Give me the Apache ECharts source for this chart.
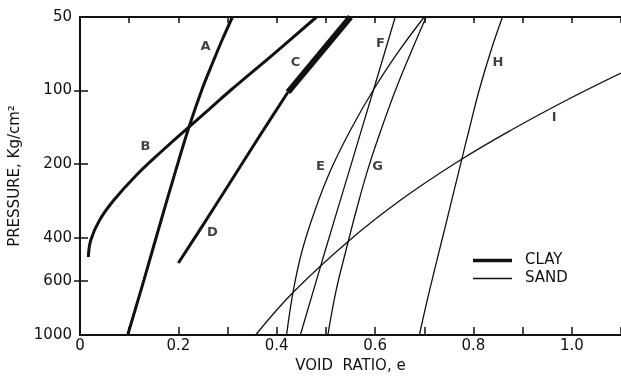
<!DOCTYPE html>
<html>
<head>
<meta charset="utf-8">
<script src="https://cdn.jsdelivr.net/npm/echarts@6/dist/echarts.min.js"></script>
<style>
  html, body { margin: 0; padding: 0; background: #fff; }
</style>
</head>
<body>
<div id="chart" style="width:621px;height:376px;"></div>
<script>
// curves: void ratio e, pressure kg/cm2
const aVoid = [0.310, 0.289, 0.272, 0.248, 0.221, 0.195, 0.161, 0.130, 0.097]
const aPress = [50, 62.1, 75, 99, 142.3, 211, 361.5, 596, 1000]
const bVoid = [0.481, 0.396, 0.308, 0.263, 0.219, 0.169, 0.115, 0.069, 0.040, 0.022, 0.017]
const bPress = [50, 70.2, 99, 119, 142.3, 175, 221.5, 280.5, 338.5, 408.5, 479.5]
const cVoid = [0.423, 0.550]
const cPress = [101.4, 50]
const dVoid = [0.200, 0.250, 0.302, 0.360, 0.423]
const dPress = [507.5, 355, 243.4, 159.3, 101.4]
const eVoid = [0.700, 0.650, 0.597, 0.550, 0.510, 0.478, 0.452, 0.434, 0.420]
const ePress = [50, 68.2, 99, 145, 211, 308, 449, 654, 1000]
const fVoid = [0.641, 0.597, 0.548, 0.499, 0.448]
const fPress = [50, 99, 211, 449, 1000]
const gVoid = [0.704, 0.675, 0.642, 0.612, 0.585, 0.562, 0.541, 0.521, 0.504]
const gPress = [50, 68.2, 99, 145, 211, 308, 449, 654, 1000]
const hVoid = [0.859, 0.836, 0.812, 0.791, 0.771, 0.741, 0.711, 0.690]
const hPress = [50, 68.2, 99, 145, 211, 372, 654, 1000]
const iVoid = [1.1, 0.990, 0.877, 0.767, 0.652, 0.544, 0.434, 0.357]
const iPress = [84.8, 109.3, 145, 196, 280.5, 416, 667, 1000]

// letters beside the curves
const tagNames = ['A', 'B', 'C', 'D', 'E', 'F', 'G', 'H', 'I']
const tagVoid = [0.255, 0.133, 0.438, 0.269, 0.489, 0.611, 0.605, 0.850, 0.964]
const tagPress = [66, 170, 76.5, 381, 205, 64, 205, 76.5, 128.6]

const pressTicks = [100, 200, 400, 600]
const pressLabels = [50, 100, 200, 400, 600, 1000]

const ink = '#111'
const font = 'DejaVu Sans'

function curve(name, voids, press, width) {
    return {
        name: name,
        type: 'line',
        symbol: 'none',
        smooth: 0.4,
        lineStyle: { color: ink, width: width },
        itemStyle: { color: ink },
        data: voids.map((v, i) => [v, Math.log10(press[i])])
    }
}

const yBase = {
    type: 'value',
    inverse: true,
    min: Math.log10(50),
    max: 3,
    splitLine: { show: false },
    axisLine: { show: true, lineStyle: { color: ink, width: 2 } }
}

const option = {
    animation: false,
    grid: { left: 80, top: 17, right: 0, bottom: 41, outerBoundsMode: 'none' },
    legend: {
        orient: 'vertical',
        left: 473,
        top: 253,
        padding: 0,
        itemWidth: 39,
        itemHeight: 10,
        itemGap: 3,
        selectedMode: false,
        textStyle: { color: ink, fontFamily: font, fontSize: 15, padding: [0, 0, 0, 8] },
        data: [
            { name: 'CLAY', icon: 'path://M0 0H39V3.5H0Z' },
            { name: 'SAND', icon: 'path://M0 0H39V1.3H0Z' }
        ]
    },
    xAxis: [{
        type: 'value',
        min: 0,
        max: 1.1,
        interval: 0.1,
        position: 'bottom',
        name: 'VOID  RATIO, e',
        nameLocation: 'middle',
        nameGap: 22,
        nameTextStyle: { color: ink, fontFamily: font, fontSize: 15 },
        splitLine: { show: false },
        axisLine: { lineStyle: { color: ink, width: 2 } },
        axisTick: { inside: true, length: 8, lineStyle: { color: ink, width: 1.5 } },
        axisLabel: {
            color: ink, fontFamily: font, fontSize: 15, margin: 4,
            formatter: v => {
                const k = Math.round(v * 10)
                if (k % 2) return ''
                return k === 0 ? '0' : (k / 10).toFixed(1)
            }
        }
    }, {
        type: 'value',
        min: 0,
        max: 1.1,
        interval: 0.1,
        position: 'top',
        splitLine: { show: false },
        axisLine: { lineStyle: { color: ink, width: 2 } },
        axisTick: { inside: true, length: 6, lineStyle: { color: ink, width: 1.5 } },
        axisLabel: { show: false }
    }],
    yAxis: [Object.assign({}, yBase, {
        position: 'left',
        name: 'PRESSURE, Kg/cm²',
        nameLocation: 'middle',
        nameGap: 56,
        nameTextStyle: { color: ink, fontFamily: font, fontSize: 15 },
        axisTick: {
            inside: true, length: 8,
            customValues: pressTicks.map(p => Math.log10(p)),
            lineStyle: { color: ink, width: 1.5 }
        },
        axisLabel: {
            color: ink, fontFamily: font, fontSize: 15, margin: 8,
            customValues: pressLabels.map(p => Math.log10(p)),
            formatter: v => String(Math.round(Math.pow(10, v)))
        }
    }), Object.assign({}, yBase, {
        position: 'right',
        axisTick: {
            inside: true, length: 6,
            customValues: pressTicks.map(p => Math.log10(p)),
            lineStyle: { color: ink, width: 1.5 }
        },
        axisLabel: { show: false }
    })],
    series: [
        curve('CLAY', aVoid, aPress, 3),
        curve('CLAY', bVoid, bPress, 3),
        curve('CLAY', cVoid, cPress, 6),
        curve('CLAY', dVoid, dPress, 3),
        curve('SAND', eVoid, ePress, 1.3),
        curve('SAND', fVoid, fPress, 1.3),
        curve('SAND', gVoid, gPress, 1.3),
        curve('SAND', hVoid, hPress, 1.3),
        curve('SAND', iVoid, iPress, 1.3),
        {
            type: 'scatter',
            symbolSize: 0,
            silent: true,
            label: {
                show: true,
                position: 'inside',
                color: ink,
                fontFamily: font,
                fontSize: 13,
                fontWeight: 'bold',
                formatter: p => p.value[2]
            },
            data: tagNames.map((t, i) => [tagVoid[i], Math.log10(tagPress[i]), t])
        }
    ]
}

const myChart = echarts.init(document.getElementById('chart'))
myChart.setOption(option)
</script>
</body>
</html>
